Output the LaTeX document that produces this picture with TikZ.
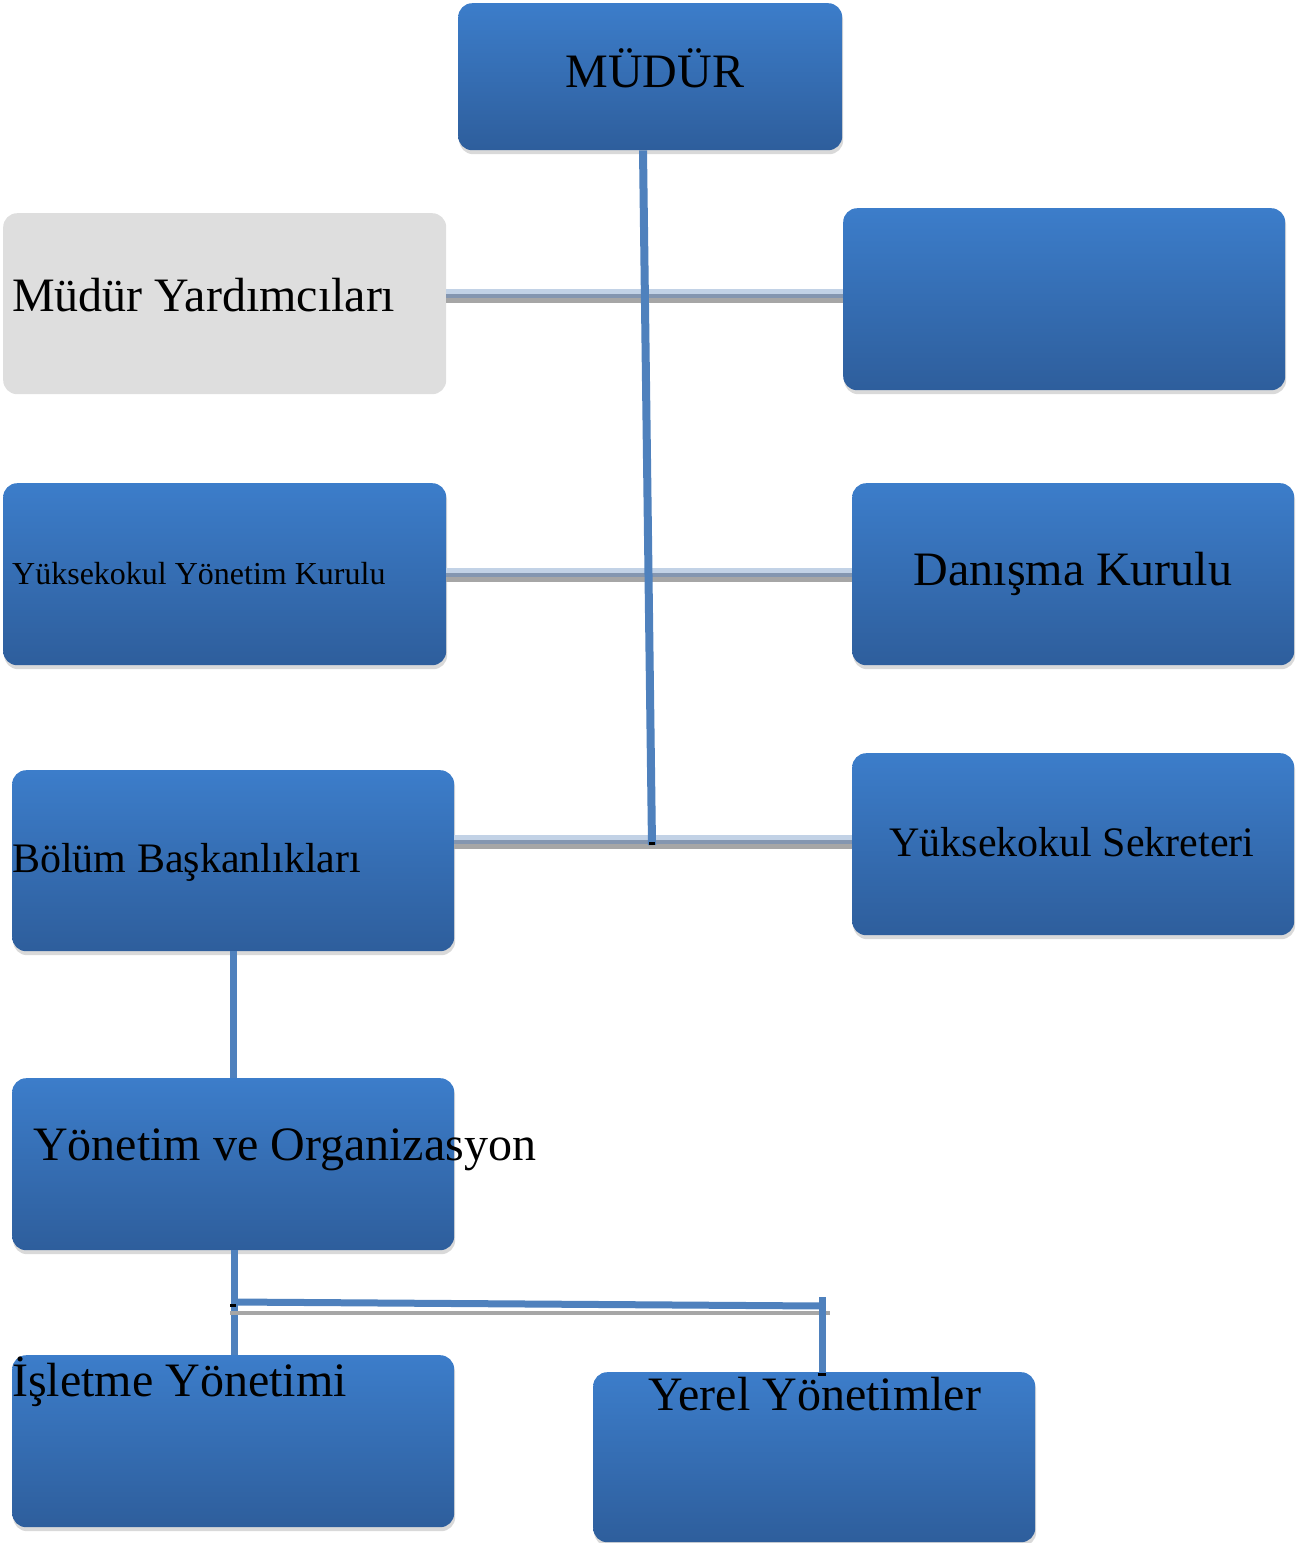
\documentclass[tikz,border=0pt]{standalone}
\usepackage{fontspec}
\setmainfont{Liberation Serif}
\usetikzlibrary{shadows}
\definecolor{boxtop}{HTML}{3C7DCA}
\definecolor{boxbot}{HTML}{2E5E9C}
\definecolor{lineblue}{HTML}{4F81BD}
\definecolor{hllight}{HTML}{C2D2E6}
\definecolor{hlslate}{HTML}{8496B0}
\definecolor{hlgray}{HTML}{A6A6A6}
\definecolor{graybox}{HTML}{DEDEDE}
\definecolor{shadowgray}{HTML}{D9D9D9}
\begin{document}
\begin{tikzpicture}[x=1pt,y=-1pt,
  bluebox/.style={rounded corners=14pt, top color=boxtop, bottom color=boxbot, draw=none,
    anchor=north west, inner sep=0pt,
    drop shadow={shadow xshift=1pt, shadow yshift=-4pt, fill=shadowgray, opacity=1}},
  greybox/.style={rounded corners=14pt, fill=graybox, draw=none, anchor=north west, inner sep=0pt},
  lbl/.style={inner sep=0pt, text=black},
  big/.style={font=\fontsize{48}{56}\selectfont},
  mid/.style={font=\fontsize{42}{50}\selectfont},
  small/.style={font=\fontsize{32}{38}\selectfont},
  vline/.style={draw=lineblue, line width=8pt},
  hl/.style={draw=hlslate, line width=4.5pt,
    preaction={draw=hllight, line width=5pt, transform canvas={yshift=4.5pt}},
    postaction={draw=hlgray, line width=5pt, transform canvas={yshift=-4.5pt}}},
  mark/.style={}
]
\useasboundingbox (0,0) rectangle (1298,1543);

% boxes
\node[bluebox, minimum width=384pt, minimum height=147pt] (mudur) at (458,3) {};
\node[greybox, minimum width=443pt, minimum height=181pt] (myard) at (3,213) {};
\node[bluebox, minimum width=442pt, minimum height=182pt] (rtop) at (843,208) {};
\node[bluebox, minimum width=443pt, minimum height=182pt] (yyk) at (3,483) {};
\node[bluebox, minimum width=442pt, minimum height=182pt] (dan) at (852,483) {};
\node[bluebox, minimum width=442pt, minimum height=181pt] (bol) at (12,770) {};
\node[bluebox, minimum width=442pt, minimum height=182pt] (sek) at (852,753) {};
\node[bluebox, minimum width=442pt, minimum height=172pt] (yon) at (12,1078) {};
\node[bluebox, minimum width=442pt, minimum height=172pt] (isl) at (12,1355) {};
\node[bluebox, minimum width=442pt, minimum height=170pt] (yer) at (593,1372) {};

% labels
\node[lbl, big, anchor=base] (tmudur) at (655,87) {MÜDÜR};
\node[lbl, big, anchor=base west] (tmyard) at (12,311) {Müdür Yardımcıları};
\node[lbl, small, anchor=base west] (tyyk) at (12,584) {Yüksekokul Yönetim Kurulu};
\node[lbl, big, anchor=base] (tdan) at (1073,585) {Danışma Kurulu};
\node[lbl, mid, anchor=base west] (tbol) at (12,872) {Bölüm Başkanlıkları};
\node[lbl, mid, anchor=base] (tsek) at (1072,856) {Yüksekokul Sekreteri};
\node[lbl, big, anchor=base west] (tyon) at (33,1160) {Yönetim ve Organizasyon};
\node[lbl, big, anchor=base west] (tisl) at (12,1396) {İşletme Yönetimi};
\node[lbl, big, anchor=base] (tyer) at (815,1410) {Yerel Yönetimler};

% horizontal double connectors
\draw[hl] (myard.east |- 0,296) -- (rtop.west |- 0,296);
\draw[hl] (yyk.east |- 0,575) -- (dan.west |- 0,575);
\draw[hl] (bol.east |- 0,842) -- (sek.west |- 0,842);

% main vertical
\coordinate (mjoin) at (652,845);
\draw[vline] (mudur.south -| 643,0) -- (mjoin);
\draw[black, line width=3pt] (649,843) -- (655,843);

% Bolum -> Yonetim
\draw[vline, line width=7pt] (bol.south -| 233,0) -- (yon.north -| 233,0);

% Yonetim -> Isletme / Yerel
\coordinate (bjoin) at (233,1302);
\coordinate (rjoin) at (822,1306);
\draw[vline, line width=7pt] (yon.south -| 234,0) -- (isl.north -| 234,0);
\draw[draw=hlgray, line width=4pt] (230,1313) -- (830,1313);
\draw[vline, line width=7pt] (bjoin) -- (rjoin);
\draw[vline, line width=7pt] (822,1297) -- (yer.north -| 822,0);
\draw[black, line width=3pt] (230,1305) -- (236,1305);
\draw[black, line width=3pt] (818,1374) -- (826,1374);
\end{tikzpicture}
\end{document}
